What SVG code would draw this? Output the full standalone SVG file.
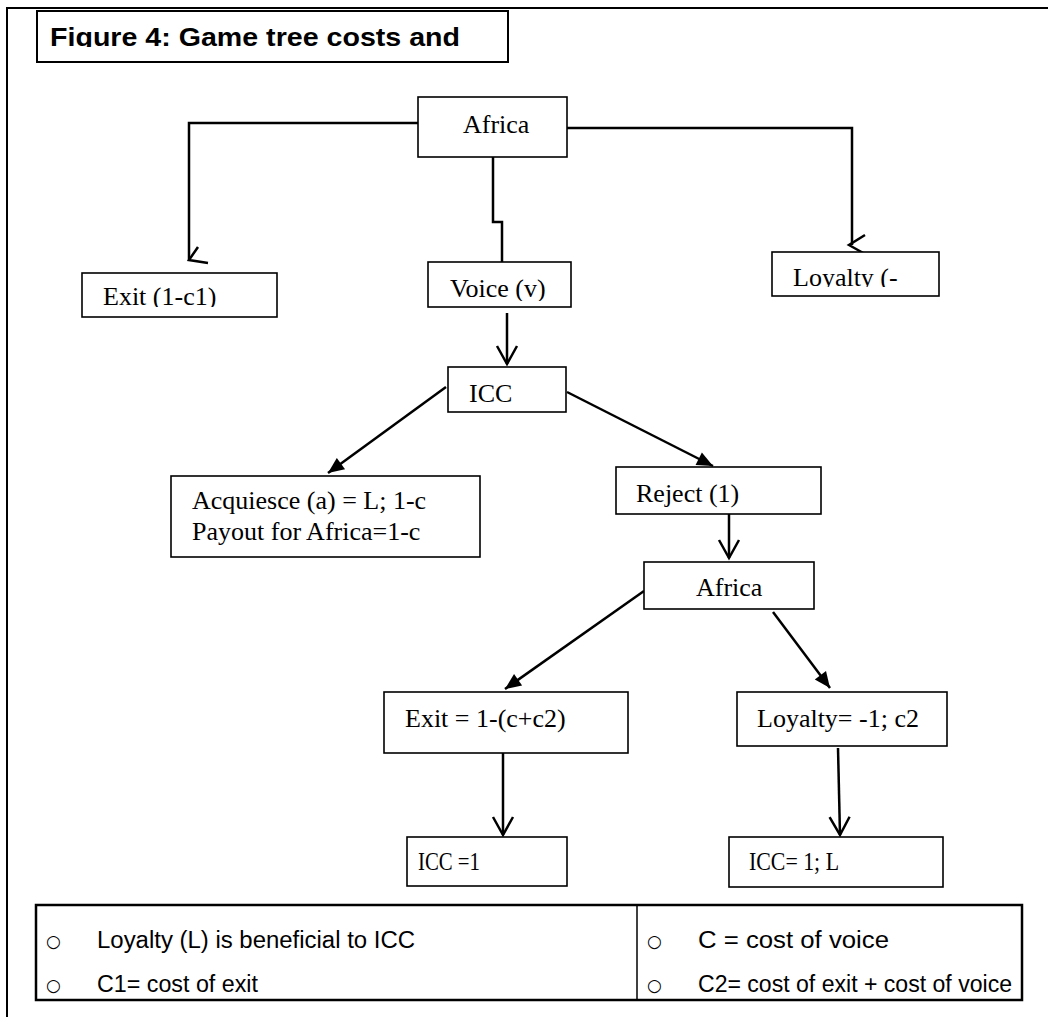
<svg xmlns="http://www.w3.org/2000/svg" width="1048" height="1017" viewBox="0 0 1048 1017">
<style>
.box{fill:#fff;stroke:#000;stroke-width:1.6}
.t{font-family:"Liberation Serif","Times New Roman",serif;font-size:26px;fill:#000}
.c{fill:none;stroke:#000;stroke-width:2.5}
.lg{font-family:"Liberation Sans",Arial,sans-serif;font-size:23px;fill:#000}
.bul{font-family:"DejaVu Sans",sans-serif;font-size:17px;fill:#000}
</style>
<defs>
<marker id="fa" viewBox="0 0 16 14" refX="16" refY="7" markerWidth="16" markerHeight="14" markerUnits="userSpaceOnUse" orient="auto" overflow="visible"><path d="M0,0 L16,7 L0,14 z" fill="#000"/></marker>
<marker id="va" viewBox="-1 -11 22 22" refX="20" refY="0" markerWidth="22" markerHeight="22" markerUnits="userSpaceOnUse" orient="auto" overflow="visible"><path d="M2,-10 L20,0 L2,10" fill="none" stroke="#000" stroke-width="2.5"/></marker>
<clipPath id="clipTitle"><rect x="37" y="10" width="470" height="37"/></clipPath>
<clipPath id="clipExit"><rect x="82" y="273" width="195" height="34"/></clipPath>
<clipPath id="clipVoice"><rect x="428" y="262" width="143" height="39"/></clipPath>
<clipPath id="clipLoy"><rect x="772" y="252" width="167" height="35"/></clipPath>
</defs>
<rect width="1048" height="1017" fill="#fff"/>
<g id="frame">
<path d="M7,1017 V8 H1048" fill="none" stroke="#000" stroke-width="2"/>
</g>
<g id="title">
<rect x="37" y="11" width="471" height="51" fill="#fff" stroke="#000" stroke-width="2"/>
<text x="50" y="46" clip-path="url(#clipTitle)" font-family="'Liberation Sans',Arial,sans-serif" font-weight="bold" font-size="26" textLength="410" lengthAdjust="spacingAndGlyphs">Figure 4: Game tree costs and</text>
</g>
<g id="connectors">
<path class="c" d="M418,123 H189 V260"/>
<path class="c" d="M198,247 L189,260 L208,263"/>
<path class="c" d="M493,157 V222 H502 V262"/>
<path class="c" d="M567,128 H852 V245"/>
<path class="c" d="M865,235 L849,245 L865,254"/>
<line class="c" x1="507" y1="313" x2="507" y2="364" marker-end="url(#va)"/>
<line class="c" x1="446" y1="387" x2="328" y2="473" marker-end="url(#fa)"/>
<line class="c" x1="567" y1="392" x2="713" y2="466" marker-end="url(#fa)"/>
<line class="c" x1="729" y1="514" x2="729" y2="558" marker-end="url(#va)"/>
<line class="c" x1="644" y1="591" x2="505" y2="689" marker-end="url(#fa)"/>
<line class="c" x1="773" y1="612" x2="830" y2="688" marker-end="url(#fa)"/>
<line class="c" x1="503" y1="753" x2="503" y2="835" marker-end="url(#va)"/>
<line class="c" x1="838" y1="748" x2="840" y2="835" marker-end="url(#va)"/>
</g>
<g id="africa1">
<rect class="box" x="418" y="97" width="149" height="60"/>
<text class="t" x="463" y="133">Africa</text>
</g>
<g id="exit1">
<rect class="box" x="82" y="273" width="195" height="44"/>
<text class="t" x="103" y="305" clip-path="url(#clipExit)">Exit (1-c1)</text>
</g>
<g id="voice">
<rect class="box" x="428" y="262" width="143" height="45"/>
<text class="t" x="450" y="297" clip-path="url(#clipVoice)">Voice (v)</text>
</g>
<g id="loyalty1">
<rect class="box" x="772" y="252" width="167" height="44"/>
<text class="t" x="793" y="286" clip-path="url(#clipLoy)">Loyalty (-</text>
</g>
<g id="icc1">
<rect class="box" x="448" y="367" width="118" height="45"/>
<text class="t" x="469" y="402">ICC</text>
</g>
<g id="acquiesce">
<rect class="box" x="171" y="476" width="309" height="81"/>
<text class="t" x="192" y="509">Acquiesce (a) = L; 1-c</text>
<text class="t" x="192" y="540">Payout for Africa=1-c</text>
</g>
<g id="reject">
<rect class="box" x="616" y="467" width="205" height="47"/>
<text class="t" x="636" y="502">Reject (1)</text>
</g>
<g id="africa2">
<rect class="box" x="644" y="562" width="170" height="47"/>
<text class="t" x="696" y="596">Africa</text>
</g>
<g id="exit2">
<rect class="box" x="384" y="692" width="244" height="61"/>
<text class="t" x="405" y="727">Exit = 1-(c+c2)</text>
</g>
<g id="loyalty2">
<rect class="box" x="737" y="692" width="210" height="54"/>
<text class="t" x="757" y="727">Loyalty= -1; c2</text>
</g>
<g id="icc2">
<rect class="box" x="407" y="837" width="160" height="49"/>
<text class="t" x="418" y="870" font-size="29" textLength="62" lengthAdjust="spacingAndGlyphs">ICC =1</text>
</g>
<g id="icc3">
<rect class="box" x="729" y="837" width="214" height="50"/>
<text class="t" x="749" y="870" font-size="29" textLength="90" lengthAdjust="spacingAndGlyphs">ICC= 1; L</text>
</g>
<g id="legend">
<rect x="36" y="905" width="986" height="95" fill="#fff" stroke="#000" stroke-width="2.5"/>
<line x1="637" y1="905" x2="637" y2="1000" stroke="#000" stroke-width="1.5"/>
<text class="bul" x="46" y="947">○</text>
<text class="bul" x="46" y="991">○</text>
<text class="bul" x="647" y="947">○</text>
<text class="bul" x="647" y="991">○</text>
<text class="lg" x="97" y="948" textLength="318" lengthAdjust="spacingAndGlyphs">Loyalty (L) is beneficial to ICC</text>
<text class="lg" x="97" y="992" textLength="161" lengthAdjust="spacingAndGlyphs">C1= cost of exit</text>
<text class="lg" x="698" y="948" textLength="191" lengthAdjust="spacingAndGlyphs">C = cost of voice</text>
<text class="lg" x="698" y="992" textLength="314" lengthAdjust="spacingAndGlyphs">C2= cost of exit + cost of voice</text>
</g>
</svg>
